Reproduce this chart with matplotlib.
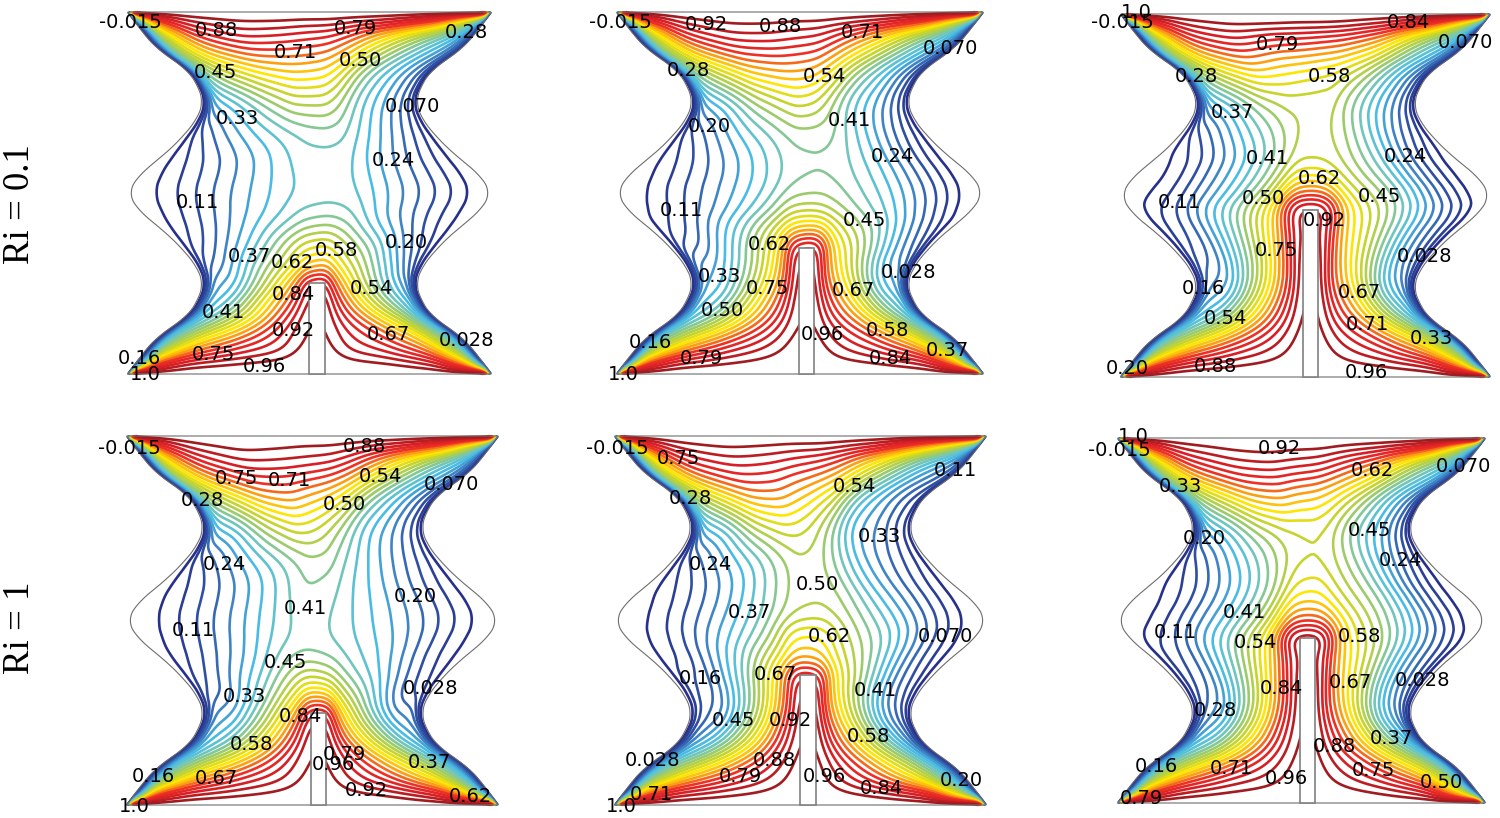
import numpy as np
import matplotlib
matplotlib.use("Agg")
import matplotlib.pyplot as plt
from matplotlib.colors import LinearSegmentedColormap
from matplotlib.patches import Rectangle

# isotherm levels, the labels on the chart are these rounded
LEVELS = np.linspace(-0.015, 1.0, 25)[1:-1]
RAINBOW = ["#27308a", "#2f4fa2", "#3f86c6", "#49bde6", "#6fc6bd", "#9ccb6c",
           "#c6d42c", "#ffe600", "#fca311", "#ee3124", "#d81f26", "#a01c20"]

# wall half width against height
WALL_V = [0, .05, .103, .158, .204, .25, .296, .34, .39, .45, .5, .55, .61, .66, .704, .75, .796, .842, .897, .95, 1]
WALL_W = [1, .93, .84, .675, .614, .585, .62, .69, .79, .94, 1, .94, .79, .69, .62, .585, .614, .675, .84, .93, 1]

# value just inside the wall, the thin layer where the blue lines bunch up
EDGE_V = [0, .05, .14, .25, .33, .42, .5, .58, .67, .75, .86, .95, 1]
EDGE_T = [.2, .15, .08, .05, .02, 0, -.01, 0, .02, .05, .08, .15, .2]

# stations across the channel, 0 is the fin centre, +-1 the wall
COLS = [-.9, -.72, -.45, -.22, -.08, .08, .22, .45, .72, .9]

P1_ROWS = [.025, .07, .14, .2, .25, .3, .36, .43, .5, .58, .66, .75, .84, .93, .975]
P1_T = [
    [.8, .94, .97, .985, 1, 1, .985, .97, .92, .7],
    [.45, .72, .84, .9, .97, .97, .9, .85, .72, .42],
    [.3, .45, .66, .86, .96, .96, .86, .74, .55, .3],
    [.25, .33, .6, .78, .93, .95, .8, .6, .38, .25],
    [.22, .27, .5, .7, .88, .9, .72, .52, .32, .2],
    [.14, .22, .42, .56, .67, .7, .6, .46, .27, .12],
    [.07, .15, .3, .47, .55, .57, .5, .38, .17, .07],
    [.02, .09, .22, .32, .39, .41, .38, .22, .09, .02],
    [.01, .075, .2, .29, .33, .34, .33, .22, .1, .015],
    [.025, .09, .2, .3, .345, .345, .33, .22, .1, .025],
    [.08, .18, .28, .34, .37, .38, .37, .28, .16, .07],
    [.25, .3, .42, .5, .5, .5, .46, .33, .22, .13],
    [.42, .55, .64, .67, .67, .65, .58, .4, .26, .15],
    [.5, .78, .88, .86, .84, .82, .76, .6, .38, .25],
    [.75, .92, .96, .96, .95, .95, .93, .9, .8, .5],
]

P2_ROWS = [.025, .07, .14, .22, .3, .35, .4, .46, .52, .58, .66, .75, .84, .93, .975]
P2_T = [
    [.8, .94, .97, .985, .995, .995, .985, .97, .93, .7],
    [.45, .72, .86, .93, .98, .98, .92, .85, .72, .45],
    [.3, .42, .66, .84, .96, .96, .85, .72, .5, .3],
    [.25, .3, .56, .77, .95, .95, .78, .6, .33, .25],
    [.2, .25, .44, .68, .93, .93, .7, .5, .25, .18],
    [.12, .18, .4, .62, .88, .9, .65, .47, .24, .12],
    [.06, .13, .33, .53, .68, .7, .56, .42, .2, .08],
    [.015, .08, .22, .37, .5, .5, .44, .33, .14, .015],
    [.005, .08, .2, .32, .41, .43, .4, .3, .12, .01],
    [.025, .09, .21, .33, .39, .4, .39, .3, .13, .025],
    [.08, .17, .3, .38, .42, .42, .41, .31, .16, .07],
    [.25, .3, .45, .52, .55, .53, .47, .33, .22, .12],
    [.42, .55, .68, .71, .71, .69, .62, .44, .28, .14],
    [.5, .8, .9, .9, .88, .86, .79, .66, .4, .25],
    [.75, .93, .97, .97, .96, .96, .94, .9, .8, .5],
]

P3_ROWS = [.025, .07, .14, .22, .32, .4, .46, .51, .56, .61, .67, .75, .84, .93, .975]
P3_T = [
    [.8, .94, .97, .985, .995, .995, .985, .97, .93, .7],
    [.45, .72, .86, .93, .98, .98, .93, .86, .72, .45],
    [.3, .42, .67, .86, .97, .97, .86, .73, .5, .3],
    [.22, .26, .56, .8, .96, .96, .8, .62, .33, .22],
    [.12, .18, .45, .73, .95, .95, .73, .52, .25, .12],
    [.07, .15, .41, .68, .93, .93, .68, .49, .22, .09],
    [.04, .12, .36, .62, .95, .95, .64, .46, .2, .06],
    [.01, .07, .27, .49, .75, .75, .56, .42, .14, .01],
    [0, .07, .25, .43, .6, .6, .51, .37, .12, .01],
    [.03, .1, .26, .42, .52, .52, .49, .36, .14, .03],
    [.08, .18, .33, .44, .5, .5, .49, .36, .18, .08],
    [.25, .3, .44, .5, .5, .5, .5, .38, .24, .13],
    [.42, .56, .66, .62, .6, .58, .56, .48, .3, .16],
    [.5, .8, .88, .82, .82, .8, .78, .7, .42, .28],
    [.75, .93, .97, .97, .96, .96, .95, .91, .82, .52],
]

P4_ROWS = [.025, .07, .14, .2, .25, .3, .36, .43, .5, .58, .66, .75, .84, .93, .975]
P4_T = [
    [.8, .93, .96, .98, .99, .99, .98, .96, .88, .6],
    [.42, .7, .84, .91, .97, .97, .9, .8, .62, .35],
    [.28, .42, .64, .84, .96, .96, .84, .66, .42, .26],
    [.24, .3, .54, .76, .94, .94, .74, .52, .28, .2],
    [.2, .24, .46, .68, .88, .88, .66, .43, .2, .18],
    [.12, .18, .37, .55, .68, .66, .52, .36, .15, .1],
    [.07, .15, .29, .44, .5, .47, .39, .29, .14, .06],
    [.02, .09, .22, .36, .39, .37, .33, .25, .09, .02],
    [0, .07, .2, .33, .39, .36, .31, .22, .09, .01],
    [.025, .09, .21, .34, .41, .38, .32, .23, .1, .025],
    [.08, .17, .29, .38, .43, .43, .36, .26, .15, .07],
    [.28, .31, .48, .56, .55, .5, .44, .3, .2, .11],
    [.44, .58, .72, .74, .7, .66, .6, .42, .26, .14],
    [.55, .82, .92, .91, .9, .88, .82, .64, .38, .24],
    [.78, .94, .98, .97, .96, .96, .94, .9, .8, .5],
]

P5_ROWS = [.025, .07, .14, .22, .3, .35, .4, .46, .52, .58, .66, .75, .84, .93, .975]
P5_T = [
    [.78, .92, .96, .98, .995, .995, .98, .95, .88, .55],
    [.42, .68, .83, .92, .98, .98, .9, .78, .58, .3],
    [.25, .38, .64, .85, .97, .97, .84, .66, .42, .22],
    [.14, .22, .5, .78, .95, .95, .76, .55, .27, .14],
    [.11, .16, .42, .7, .93, .92, .67, .45, .2, .1],
    [.09, .14, .38, .66, .88, .86, .63, .43, .18, .08],
    [.04, .11, .33, .55, .7, .68, .56, .4, .16, .05],
    [.015, .08, .26, .42, .62, .62, .5, .36, .13, .015],
    [0, .07, .22, .38, .49, .51, .46, .3, .11, .01],
    [.025, .09, .23, .39, .47, .48, .44, .27, .12, .025],
    [.08, .18, .3, .42, .48, .47, .4, .25, .14, .07],
    [.28, .31, .5, .56, .55, .5, .42, .25, .18, .09],
    [.45, .6, .73, .73, .68, .62, .56, .34, .2, .11],
    [.55, .83, .9, .88, .85, .82, .76, .58, .3, .2],
    [.78, .94, .97, .96, .95, .95, .93, .88, .7, .45],
]

P6_ROWS = [.025, .07, .14, .22, .32, .4, .45, .5, .55, .6, .67, .75, .84, .93, .975]
P6_T = [
    [.78, .93, .97, .985, .995, .995, .985, .96, .9, .6],
    [.45, .72, .87, .93, .98, .98, .93, .85, .7, .45],
    [.3, .42, .68, .87, .97, .97, .87, .72, .48, .3],
    [.18, .26, .56, .82, .96, .96, .82, .62, .32, .18],
    [.1, .18, .46, .74, .95, .95, .74, .52, .24, .11],
    [.08, .15, .41, .68, .93, .93, .69, .49, .21, .09],
    [.04, .12, .36, .62, .97, .97, .64, .46, .19, .05],
    [0, .08, .28, .5, .78, .78, .6, .42, .15, .01],
    [0, .07, .25, .44, .66, .66, .55, .41, .13, .01],
    [.03, .1, .26, .43, .58, .6, .52, .4, .15, .03],
    [.08, .18, .33, .46, .52, .53, .5, .38, .2, .08],
    [.25, .31, .46, .52, .53, .54, .51, .38, .25, .13],
    [.42, .56, .7, .72, .68, .66, .62, .5, .3, .17],
    [.5, .8, .9, .92, .9, .88, .82, .72, .44, .3],
    [.75, .93, .97, .98, .97, .97, .95, .92, .84, .52],
]

# text, x, y in image pixels
P1_LABELS = [("-0.015", 130, 22), ("0.88", 216, 30), ("0.79", 355, 28), ("0.28", 466, 32), ("0.71", 295, 52),
             ("0.50", 360, 60), ("0.45", 215, 73), ("0.070", 412, 107), ("0.33", 237, 118), ("0.24", 393, 160),
             ("0.11", 197, 202), ("0.20", 406, 243), ("0.37", 249, 257), ("0.62", 292, 263), ("0.58", 336, 250),
             ("0.54", 371, 288), ("0.84", 293, 295), ("0.41", 223, 312), ("0.92", 293, 330), ("0.67", 388, 334),
             ("0.028", 466, 341), ("0.16", 139, 358), ("0.75", 213, 355), ("0.96", 264, 367), ("1.0", 145, 374)]
P2_LABELS = [("-0.015", 620, 22), ("0.92", 706, 25), ("0.88", 780, 27), ("0.71", 862, 33), ("0.070", 950, 48),
             ("0.28", 688, 70), ("0.54", 824, 76), ("0.41", 849, 121), ("0.20", 709, 126), ("0.24", 892, 156),
             ("0.11", 681, 210), ("0.45", 864, 221), ("0.62", 769, 244), ("0.028", 909, 272), ("0.33", 719, 277),
             ("0.75", 767, 289), ("0.67", 853, 291), ("0.50", 722, 310), ("0.96", 822, 335), ("0.58", 887, 331),
             ("0.16", 650, 342), ("0.79", 701, 358), ("0.84", 890, 359), ("0.37", 947, 351), ("1.0", 623, 375)]
P3_LABELS = [("1.0", 1136, 12), ("-0.015", 1122, 23), ("0.84", 1408, 22), ("0.070", 1465, 42), ("0.79", 1277, 44),
             ("0.58", 1329, 76), ("0.28", 1196, 76), ("0.37", 1232, 112), ("0.41", 1267, 158), ("0.24", 1405, 157),
             ("0.62", 1319, 178), ("0.11", 1179, 202), ("0.50", 1263, 198), ("0.45", 1379, 197), ("0.92", 1324, 220),
             ("0.75", 1276, 250), ("0.028", 1425, 257), ("0.16", 1203, 289), ("0.67", 1359, 292), ("0.54", 1225, 319),
             ("0.71", 1367, 324), ("0.33", 1431, 339), ("0.20", 1127, 368), ("0.88", 1215, 367), ("0.96", 1366, 372)]
P4_LABELS = [("-0.015", 129, 448), ("0.88", 364, 446), ("0.75", 236, 479), ("0.71", 289, 480), ("0.54", 380, 476),
             ("0.070", 451, 485), ("0.28", 202, 500), ("0.50", 344, 505), ("0.24", 224, 565), ("0.41", 305, 609),
             ("0.20", 415, 597), ("0.11", 193, 631), ("0.45", 285, 662), ("0.028", 431, 689), ("0.33", 244, 697),
             ("0.84", 300, 717), ("0.58", 251, 745), ("0.79", 344, 755), ("0.96", 333, 765), ("0.37", 429, 763),
             ("0.16", 153, 776), ("0.67", 216, 778), ("0.92", 366, 790), ("0.62", 470, 796), ("1.0", 134, 806)]
P5_LABELS = [("-0.015", 617, 448), ("0.75", 678, 459), ("0.11", 955, 471), ("0.54", 854, 487), ("0.28", 690, 499),
             ("0.33", 879, 537), ("0.24", 710, 565), ("0.50", 817, 584), ("0.37", 749, 612), ("0.62", 829, 637),
             ("0.070", 945, 636), ("0.67", 775, 674), ("0.16", 700, 679), ("0.41", 875, 690), ("0.45", 733, 721),
             ("0.92", 790, 720), ("0.58", 868, 736), ("0.88", 774, 760), ("0.028", 653, 761), ("0.79", 740, 776),
             ("0.96", 824, 777), ("0.84", 881, 788), ("0.20", 961, 780), ("0.71", 651, 795), ("1.0", 621, 806)]
P6_LABELS = [("1.0", 1133, 437), ("-0.015", 1119, 450), ("0.92", 1279, 449), ("0.62", 1372, 471), ("0.070", 1463, 466),
             ("0.33", 1180, 487), ("0.45", 1369, 531), ("0.20", 1204, 538), ("0.24", 1400, 561), ("0.41", 1244, 613),
             ("0.11", 1175, 632), ("0.58", 1359, 636), ("0.54", 1255, 642), ("0.84", 1281, 689), ("0.67", 1350, 683),
             ("0.028", 1423, 681), ("0.28", 1215, 711), ("0.88", 1334, 746), ("0.37", 1391, 738), ("0.16", 1156, 766),
             ("0.71", 1231, 768), ("0.75", 1373, 771), ("0.96", 1286, 779), ("0.50", 1441, 783), ("0.79", 1141, 798)]

# x0, x1, y_top, y_bottom, fin_left, fin_right, fin_top
PANELS = [
    (128, 491, 12, 374, 309, 325, 283, P1_ROWS, P1_T, P1_LABELS),
    (617, 983, 12, 374, 799, 814, 248, P2_ROWS, P2_T, P2_LABELS),
    (1121, 1490, 14, 377, 1303, 1318, 210, P3_ROWS, P3_T, P3_LABELS),
    (127, 498, 436, 805, 311, 326, 713, P4_ROWS, P4_T, P4_LABELS),
    (615, 986, 436, 805, 800, 816, 675, P5_ROWS, P5_T, P5_LABELS),
    (1118, 1485, 438, 803, 1300, 1315, 638, P6_ROWS, P6_T, P6_LABELS),
]
ROW_TITLES = [("Ri = 0.1", 20, 204), ("Ri = 1", 20, 628)]


def smooth(arr, n, axis):
    # box filter with odd reflection, keeps the end values in place
    def one(a):
        pad = n // 2
        left = 2 * a[0] - a[pad:0:-1]
        right = 2 * a[-1] - a[-2:-pad - 2:-1]
        return np.convolve(np.r_[left, a, right], np.ones(n) / n, mode="valid")
    return np.apply_along_axis(one, axis, arr)


def densify(rows, cols, table, sub=12):
    s = np.r_[-1, -.97, cols, .97, 1]
    v = np.r_[0, rows, 1]
    grid = np.ones((len(v), len(s)))
    grid[1:-1, 2:-2] = table
    edge = np.interp(v, EDGE_V, EDGE_T)
    grid[1:-1, 1] = grid[1:-1, -2] = edge[1:-1]
    grid[:, 0] = grid[:, -1] = -0.02

    si = np.linspace(0, len(s) - 1, (len(s) - 1) * sub + 1)
    vi = np.linspace(0, len(v) - 1, (len(v) - 1) * sub + 1)
    s_fine = np.interp(si, np.arange(len(s)), s)
    v_fine = np.interp(vi, np.arange(len(v)), v)
    t = np.array([np.interp(si, np.arange(len(s)), row) for row in grid])
    t = np.array([np.interp(vi, np.arange(len(v)), col) for col in t.T]).T

    for _ in range(3):
        s_fine = smooth(s_fine, 7, 0)
        v_fine = smooth(v_fine, 9, 0)
        t = smooth(smooth(t, 7, 1), 9, 0)
    return s_fine, v_fine, t


def wall_width(v):
    dense = np.linspace(0, 1, 1001)
    w = smooth(np.interp(dense, WALL_V, WALL_W), 61, 0)
    return np.interp(v, dense, w)


fig = plt.figure(figsize=(15, 8.18), dpi=100)
ax = fig.add_axes([0, 0, 1, 1])
ax.set_xlim(0, 1500)
ax.set_ylim(818, 0)
ax.axis("off")

cmap = LinearSegmentedColormap.from_list("rainbow_comsol", RAINBOW)
colors = [cmap(i) for i in np.linspace(0, 1, len(LEVELS))]

for x0, x1, y0, y1, fin_l, fin_r, fin_top, rows, table, labels in PANELS:
    xc = (x0 + x1) / 2
    half = (x1 - x0) / 2
    fin_c = ((fin_l + fin_r) / 2 - xc) / half

    s, v, t = densify(rows, COLS, table)
    w = wall_width(v)[:, None]
    ss = s[None, :]
    u = fin_c + ss * np.where(ss < 0, w + fin_c, w - fin_c)
    X = xc + u * half
    Y = y1 - np.broadcast_to(v[:, None], u.shape) * (y1 - y0)
    ax.contour(X, Y, t, levels=LEVELS, colors=colors, linewidths=1.9, zorder=2)

    # thin outline of the cavity
    vv = np.linspace(0, 1, 400)
    ww = wall_width(vv) * half
    yy = y1 - vv * (y1 - y0)
    ax.plot(np.r_[xc - ww, (xc + ww)[::-1], xc - ww[0]], np.r_[yy, yy[::-1], yy[0]],
            color="#6e6e6e", lw=0.8, zorder=3)

    ax.add_patch(Rectangle((fin_l, fin_top), fin_r - fin_l, y1 - fin_top, facecolor="white",
                           edgecolor="#808080", lw=1.2, zorder=4))

    for text, lx, ly in labels:
        ax.text(lx, ly, text, ha="center", va="center", fontsize=14, color="black",
                family="DejaVu Sans", zorder=5)

for text, tx, ty in ROW_TITLES:
    ax.text(tx, ty, text, rotation=90, ha="center", va="center", fontsize=26.5,
            family="Liberation Serif", color="black")

fig.savefig("out.png", dpi=100)
